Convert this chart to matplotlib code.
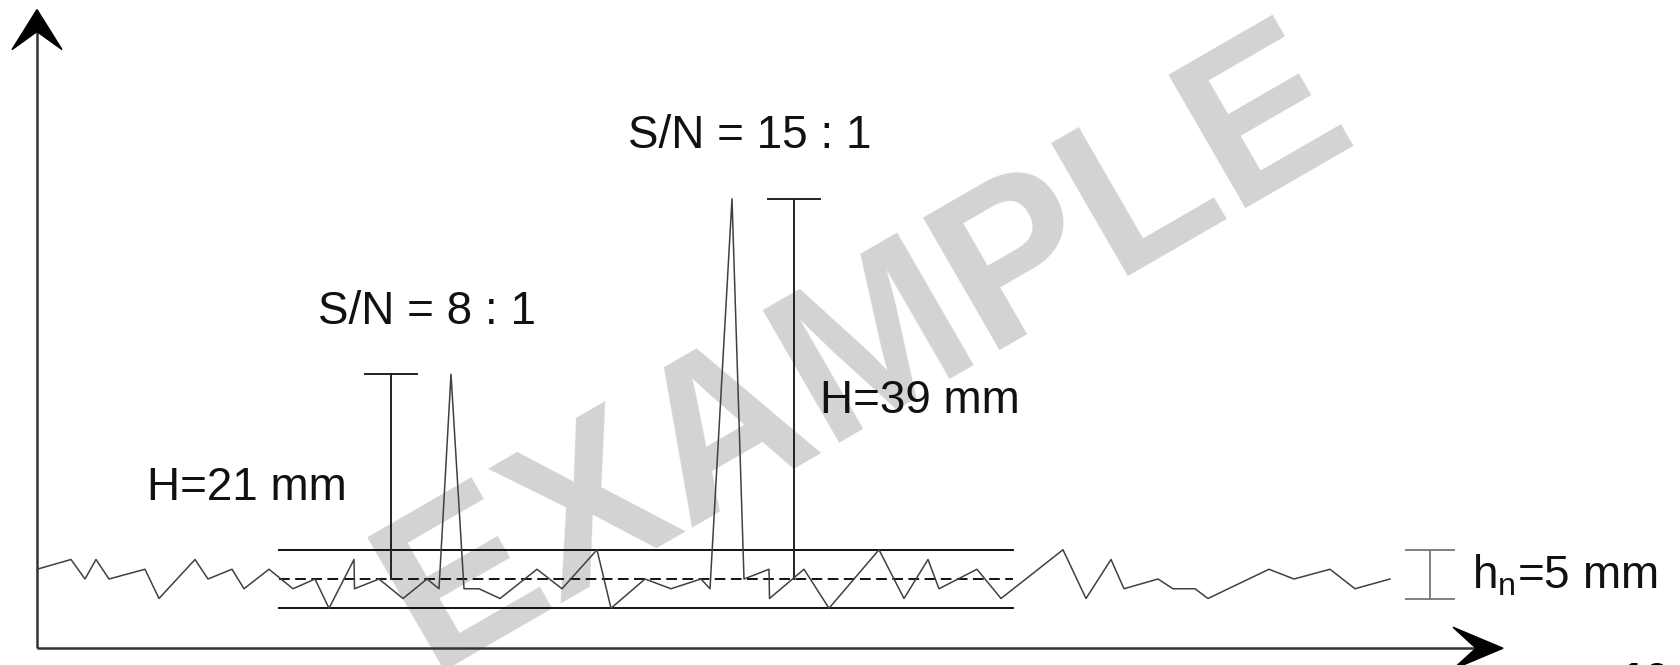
import matplotlib.pyplot as plt
import matplotlib.transforms as mtransforms
from matplotlib.patches import Polygon

plt.rcParams["font.family"] = ["Liberation Sans", "DejaVu Sans"]
plt.rcParams["mathtext.fontset"] = "custom"
plt.rcParams["mathtext.rm"] = "Liberation Sans"
plt.rcParams["mathtext.it"] = "Liberation Sans:italic"

#%% Signal / noise values (heights in mm above the baseline)
H_PEAKS = [21, 39]
H_NOISE = 5
SN_LABELS = ["S/N = 8 : 1", "S/N = 15 : 1"]
H_LABELS = [f"H={h} mm" for h in H_PEAKS]
NOISE_LABEL = rf"h$_\mathrm{{n}}$={H_NOISE} mm"

# chromatogram trace: time position and detector signal [mm]
trace_t = [37, 71, 85, 96, 109, 145, 159, 195, 208, 232, 244, 269, 293, 315,
           329, 354, 354.5, 379, 403, 427, 439, 451, 464, 479, 500, 537, 562,
           597, 611, 645, 671, 701, 710, 732, 744, 769, 769.5, 804, 829, 879,
           904, 928, 939, 977, 1001, 1063, 1086, 1111, 1124, 1158, 1173, 1195,
           1208, 1269, 1294, 1330, 1355, 1390]
trace_y = [1, 2, 0, 2, 0, 1, -2, 2, 0, 1, -1, 1, -1, 0,
           -3, 2, -1, 0, -2, 0, -1, H_PEAKS[0], -1, -1, -2, 1, -1,
           3, -3, 0, -1, 0, -1, H_PEAKS[1], 0, 1, -2, 1, -3, 3,
           -2, 2, -1, 1, -2, 3, -2, 2, -1, 0, -1, -1,
           -2, 1, 0, 1, -1, 0]

BAND_T = (279, 1013)        # noise band extent
BAND_Y = (3, -3)            # noise envelope
BRACKET_T = [391, 794]      # H measurement brackets
NOISE_T = 1430              # h_n bracket

#%% Layout
PX_PER_MM = 9.75
BASE_PX = 579               # baseline row in the canvas
W, H = 1680, 665
ORIGIN = (37, -7.1)
X_TIP = 1503
Y_TIP = 58.4

fig = plt.figure(figsize=(W / 100, H / 100), dpi=100)
ax = fig.add_axes([0, 0, 1, 1])
ax.set_xlim(0, W)
ax.set_ylim((BASE_PX - H) / PX_PER_MM, BASE_PX / PX_PER_MM)
ax.axis("off")

# watermark
ax.text(865, 23.3, "EXAMPLE", fontsize=160, fontweight="bold", color="#d3d3d3",
        rotation=30, rotation_mode="anchor", ha="center", va="center", zorder=0)

# axes with arrow heads
ax.plot([ORIGIN[0], ORIGIN[0]], [ORIGIN[1], Y_TIP - 2], color="#333333", lw=1.8,
        solid_capstyle="butt")
ax.plot([ORIGIN[0], X_TIP - 20], [ORIGIN[1], ORIGIN[1]], color="#333333", lw=1.8,
        solid_capstyle="butt")

ident = mtransforms.IdentityTransform()
tx, ty = ax.transData.transform((ORIGIN[0], Y_TIP))
ax.add_patch(Polygon([(tx, ty), (tx + 25, ty - 40), (tx, ty - 22), (tx - 25, ty - 40)],
                     closed=True, color="black", transform=ident, zorder=5))
tx, ty = ax.transData.transform((X_TIP, ORIGIN[1]))
ax.add_patch(Polygon([(tx, ty), (tx - 50, ty + 21), (tx - 27, ty), (tx - 50, ty - 21)],
                     closed=True, color="black", transform=ident, zorder=5))

# noise band
for yb in BAND_Y:
    ax.plot(BAND_T, [yb, yb], color="#111111", lw=1.4)
ax.plot(BAND_T, [0, 0], color="#111111", lw=1.4, linestyle=(0, (5.5, 2.8)))

# trace
ax.plot(trace_t, trace_y, color="#404040", lw=1.1, zorder=3)

# H brackets from baseline to peak top
for xb, hp in zip(BRACKET_T, H_PEAKS):
    ax.plot([xb, xb], [0, hp], color="#222222", lw=1.4)
    ax.plot([xb - 26, xb + 26], [hp, hp], color="#222222", lw=1.4)

# h_n bracket
ax.plot([NOISE_T, NOISE_T], [BAND_Y[0], BAND_Y[0] - H_NOISE], color="#808080", lw=1.4)
for yb in (BAND_Y[0], BAND_Y[0] - H_NOISE):
    ax.plot([NOISE_T - 24, NOISE_T + 24], [yb, yb], color="#808080", lw=1.4)

# labels
txt_kw = dict(fontsize=33, color="#111111", ha="left", va="baseline")
ax.text(318, 26.2, SN_LABELS[0], **txt_kw)
ax.text(628, 44.2, SN_LABELS[1], **txt_kw)
ax.text(147, 8.1, H_LABELS[0], **txt_kw)
ax.text(820, 17.0, H_LABELS[1], **txt_kw)
ax.text(1472, -1.0, NOISE_LABEL, **txt_kw)

# page number, cut at the lower edge
ax.text(1620, -11.8, "10", fontsize=32, fontweight="bold", color="black",
        ha="left", va="baseline")

fig.savefig("out.png", dpi=100)
